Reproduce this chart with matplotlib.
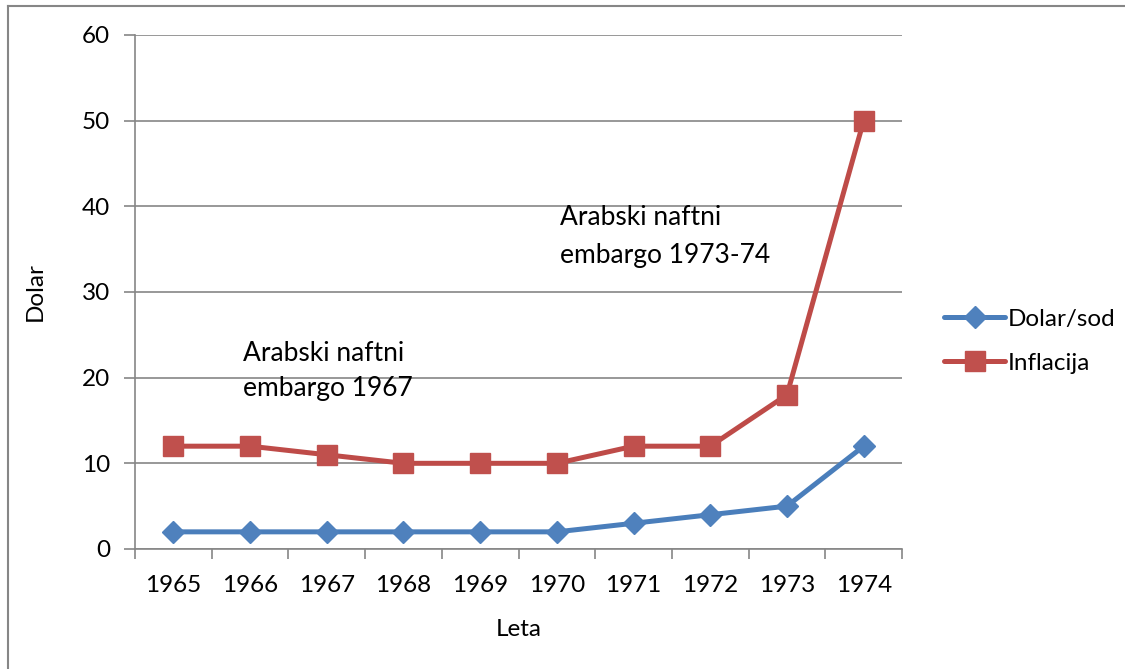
import matplotlib.pyplot as plt
from matplotlib.lines import Line2D

years = ["1965", "1966", "1967", "1968", "1969", "1970", "1971", "1972", "1973", "1974"]
dolar_sod = [2, 2, 2, 2, 2, 2, 3, 4, 5, 12]
inflacija = [12, 12, 11, 10, 10, 10, 12, 12, 18, 50]
y_ticks = [0, 10, 20, 30, 40, 50, 60]

plt.rcParams['font.family'] = ['Lato', 'DejaVu Sans']
grey = '#868686'
fs = 17.5

fig = plt.figure(figsize=(11.25, 6.69), dpi=100)
ax = fig.add_axes([0.12, 0.1794, 0.6818, 0.7683])

x = list(range(len(years)))
ax.plot(x, dolar_sod, color='#4A7EBB', lw=3.6, marker='D', markersize=11,
        markerfacecolor='#4F81BD', markeredgecolor='#4F81BD',
        solid_joinstyle='round', solid_capstyle='round', label='Dolar/sod', zorder=3)
ax.plot(x, inflacija, color='#BE4B48', lw=3.6, marker='s', markersize=14,
        markerfacecolor='#C0504D', markeredgecolor='#C0504D',
        solid_joinstyle='round', solid_capstyle='round', label='Inflacija', zorder=3)

ax.set_xlim(-0.5, len(years) - 0.5)
ax.set_ylim(0, 60)
ax.set_yticks(y_ticks)
ax.yaxis.grid(True, color=grey, lw=1.2)
ax.set_axisbelow(True)

# category labels centered, tick marks on boundaries
ax.set_xticks(x)
ax.set_xticklabels(years)
ax.set_xticks([i - 0.5 for i in range(len(years) + 1)], minor=True)
ax.tick_params(axis='x', which='major', length=0, pad=19, labelsize=fs)
ax.tick_params(axis='x', which='minor', length=7, width=1.2, color=grey, direction='out')
ax.tick_params(axis='y', length=8, width=1.2, color=grey, labelsize=fs, pad=10)

for side in ['top', 'right']:
    ax.spines[side].set_visible(False)
for side in ['left', 'bottom']:
    ax.spines[side].set_color(grey)
    ax.spines[side].set_linewidth(1.2)

ax.set_xlabel('Leta', fontsize=fs, labelpad=16)
ax.set_ylabel('Dolar', fontsize=fs, labelpad=26)

ax.text(0.91, 24.3, 'Arabski naftni\nembargo 1967', fontsize=19, ha='left', va='top', linespacing=1.5)
ax.text(5.04, 40.2, 'Arabski naftni\nembargo 1973-74', fontsize=19, ha='left', va='top', linespacing=1.65)

fig.legend(loc='center left', bbox_to_anchor=(0.82, 0.49), frameon=False,
           fontsize=fs, handlelength=2.5, handletextpad=0.1, labelspacing=0.95)

# outer frame: only top and left edges are visible in the picture
fig.add_artist(Line2D([0.007, 1.0], [0.991, 0.991], transform=fig.transFigure, color=grey, lw=1.5))
fig.add_artist(Line2D([0.007, 0.007], [0.0, 0.991], transform=fig.transFigure, color=grey, lw=1.5))

fig.savefig('out.png', dpi=100)
